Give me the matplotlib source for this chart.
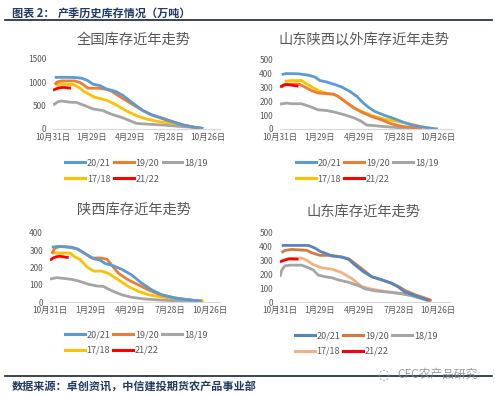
import matplotlib
matplotlib.use("Agg")
import matplotlib.pyplot as plt
from matplotlib.lines import Line2D

plt.rcParams['font.family'] = ['Noto Sans CJK SC', 'DejaVu Sans']

W, H = 495, 395

# ---------------- data ----------------
season_labels = ['20/21', '19/20', '18/19', '17/18', '21/22']
tick_days = [0, 90, 180, 270, 360]
tick_labels = ['10月31日', '1月29日', '4月29日', '7月28日', '10月26日']

# 全国
nat_2021_d = [4, 20, 47, 66, 80, 93, 109, 124, 147, 163, 186, 209, 233, 256, 279, 303, 326, 349]
nat_2021_v = [1105, 1108, 1105, 1090, 1040, 960, 930, 860, 800, 715, 550, 395, 290, 215, 150, 85, 40, 10]
nat_1920_d = [4, 10, 20, 50, 62, 72, 81, 105, 124, 136, 155, 178, 202, 225, 256, 279, 303, 326, 349]
nat_1920_v = [950, 1010, 1030, 1030, 1000, 940, 875, 875, 850, 810, 695, 565, 430, 315, 230, 155, 85, 40, 12]
nat_1819_d = [0, 12, 20, 39, 54, 70, 93, 116, 136, 159, 178, 194, 217, 256, 295, 326, 336]
nat_1819_v = [515, 585, 600, 575, 570, 515, 430, 395, 315, 250, 180, 120, 105, 85, 55, 35, 25]
nat_1718_d = [8, 14, 47, 62, 70, 97, 124, 147, 171, 194, 217, 248, 279, 310, 349]
nat_1718_v = [930, 960, 955, 880, 815, 680, 620, 515, 385, 285, 215, 155, 120, 70, 12]
nat_2122_d = [0, 7, 14, 21, 28, 35, 42]
nat_2122_v = [830, 860, 880, 890, 890, 880, 875]

# 山东陕西以外
oth_2021_d = [4, 15, 42, 65, 80, 91, 106, 125, 140, 159, 175, 190, 201, 216, 239, 262, 277, 300, 323, 345, 360]
oth_2021_v = [395, 402, 400, 390, 376, 351, 341, 322, 305, 273, 237, 188, 159, 127, 98, 73, 54, 29, 15, 5, 0]
oth_1920_d = [4, 8, 42, 53, 72, 87, 106, 121, 132, 148, 167, 186, 209, 232, 254, 277, 300, 323]
oth_1920_v = [300, 322, 327, 310, 278, 261, 256, 254, 237, 200, 156, 122, 90, 66, 37, 20, 10, 3]
oth_1819_d = [0, 15, 26, 49, 68, 87, 106, 125, 148, 171, 186, 197, 216, 239, 270, 308, 323]
oth_1819_v = [180, 188, 183, 183, 163, 139, 134, 122, 102, 78, 54, 29, 24, 17, 10, 5, 3]
oth_1718_d = [11, 26, 49, 61, 76, 91, 110, 129, 148, 167, 190, 216, 239, 270, 300, 323, 342, 350]
oth_1718_v = [346, 351, 351, 327, 298, 273, 256, 244, 200, 156, 122, 90, 71, 54, 34, 17, 5, 2]
oth_2122_d = [0, 7, 14, 21, 28, 35, 42]
oth_2122_v = [305, 315, 322, 320, 317, 313, 310]

# 陕西
sx_2021_d = [4, 19, 41, 60, 79, 98, 113, 124, 139, 161, 184, 206, 229, 251, 281, 311, 341]
sx_2021_v = [318, 322, 318, 309, 280, 251, 242, 223, 213, 190, 156, 109, 70, 42, 23, 13, 4]
sx_1920_d = [4, 11, 23, 49, 64, 79, 94, 113, 128, 139, 154, 176, 199, 221, 244, 274, 304, 341]
sx_1920_v = [280, 312, 322, 318, 305, 280, 255, 255, 248, 213, 166, 128, 99, 70, 46, 27, 15, 4]
sx_1819_d = [0, 15, 30, 49, 64, 86, 105, 120, 139, 161, 184, 214, 251, 289, 319]
sx_1819_v = [133, 141, 137, 131, 122, 103, 93, 90, 65, 42, 27, 17, 11, 6, 4]
sx_1718_d = [4, 11, 45, 56, 68, 83, 98, 116, 131, 154, 176, 199, 221, 251, 281, 311, 345]
sx_1718_v = [286, 284, 284, 261, 246, 204, 179, 179, 166, 128, 90, 61, 42, 29, 17, 11, 8]
sx_2122_d = [0, 7, 14, 21, 28, 35, 42]
sx_2122_v = [242, 255, 262, 265, 263, 260, 257]

# 山东
sd_2021_d = [4, 65, 80, 91, 106, 118, 140, 156, 171, 190, 209, 232, 254, 270, 285, 308, 330, 338]
sd_2021_v = [410, 410, 390, 367, 350, 333, 326, 310, 267, 219, 183, 160, 136, 107, 71, 45, 21, 12]
sd_1920_d = [4, 11, 27, 61, 72, 91, 118, 140, 156, 171, 190, 209, 232, 254, 270, 285, 308, 330, 345]
sd_1920_v = [357, 374, 381, 374, 357, 338, 338, 326, 314, 279, 231, 183, 160, 136, 112, 83, 52, 29, 10]
sd_1819_d = [0, 4, 11, 23, 49, 65, 76, 87, 103, 118, 133, 156, 178, 194, 216, 247, 277, 300, 323, 342]
sd_1819_v = [183, 231, 262, 267, 267, 248, 231, 195, 183, 176, 160, 143, 119, 95, 81, 71, 60, 45, 24, 5]
sd_1718_d = [15, 49, 61, 76, 95, 118, 140, 163, 186, 209, 239, 270, 292, 315, 338, 345]
sd_1718_v = [314, 319, 302, 271, 248, 238, 214, 171, 112, 93, 76, 64, 52, 33, 17, 10]
sd_2122_d = [0, 7, 14, 21, 28, 35, 42]
sd_2122_v = [290, 300, 307, 312, 312, 311, 310]

colors_std = ['#5B9BD5', '#ED7D31', '#A5A5A5', '#FFC000', '#FF0000']
colors_sd = ['#5686BF', '#D57A3F', '#A5A5A5', '#F4B183', '#FF0000']

fig = plt.figure(figsize=(W / 100, H / 100), dpi=100)
fig.patch.set_facecolor('white')


def add_ax(x0, y0, x1, y1):
    return fig.add_axes([x0 / W, 1 - y1 / H, (x1 - x0) / W, (y1 - y0) / H])


def panel(box, title, title_xy, series, colors, ymax, ystep, xmax, leg_xy):
    ax = add_ax(*box)
    ax.set_facecolor('none')
    lines = []
    # draw order: older first, current on top
    order = [3, 2, 1, 0, 4]
    hs = [None] * 5
    for i in order:
        d, v = series[i]
        ln, = ax.plot(d, v, color=colors[i], lw=2.0, solid_capstyle='butt',
                      solid_joinstyle='round')
        hs[i] = ln
    ax.set_xlim(0, xmax)
    ax.set_ylim(0, ymax)
    ax.set_yticks(list(range(0, ymax + 1, ystep)))
    ax.set_xticks(tick_days)
    ax.set_xticklabels(tick_labels)
    for s in ['top', 'right', 'left']:
        ax.spines[s].set_visible(False)
    ax.spines['bottom'].set_color('#D9D9D9')
    ax.spines['bottom'].set_linewidth(0.8)
    ax.tick_params(length=0, labelsize=6, colors='#595959', pad=3)
    ax.tick_params(axis='y', pad=5)
    ax.set_clip_on(False)
    fig.text(title_xy[0] / W, 1 - title_xy[1] / H, title, ha='center', va='center',
             fontsize=10.3, color='#595959')
    leg_order = [0, 3, 1, 4, 2]
    ax.legend([Line2D([], [], color=colors[i], lw=2.2) for i in leg_order],
              [season_labels[i] for i in leg_order],
              ncol=3, loc='center', bbox_to_anchor=(leg_xy[0] / W, 1 - leg_xy[1] / H),
              bbox_transform=fig.transFigure, frameon=False, fontsize=6.5,
              labelcolor='#595959', handlelength=2.2, handletextpad=0.2,
              columnspacing=0.35, labelspacing=0.75, borderpad=0)
    return ax


panel((53, 59, 220, 129), '全国库存近年走势', (134, 40),
      [(nat_2021_d, nat_2021_v), (nat_1920_d, nat_1920_v), (nat_1819_d, nat_1819_v),
       (nat_1718_d, nat_1718_v), (nat_2122_d, nat_2122_v)],
      colors_std, 1500, 500, 388, (136.5, 171))

panel((280, 60, 452, 129), '山东陕西以外库存近年走势', (364, 40),
      [(oth_2021_d, oth_2021_v), (oth_1920_d, oth_1920_v), (oth_1819_d, oth_1819_v),
       (oth_1718_d, oth_1718_v), (oth_2122_d, oth_2122_v)],
      colors_std, 500, 100, 392, (367, 171))

panel((50, 233, 220, 302), '陕西库存近年走势', (134, 210),
      [(sx_2021_d, sx_2021_v), (sx_1920_d, sx_1920_v), (sx_1819_d, sx_1819_v),
       (sx_1718_d, sx_1718_v), (sx_2122_d, sx_2122_v)],
      colors_std, 400, 100, 382, (136, 342.5))

panel((280, 233, 450, 302), '山东库存近年走势', (363, 212),
      [(sd_2021_d, sd_2021_v), (sd_1920_d, sd_1920_v), (sd_1819_d, sd_1819_v),
       (sd_1718_d, sd_1718_v), (sd_2122_d, sd_2122_v)],
      colors_sd, 500, 100, 387, (366, 343.5))

navy = '#1F3864'
# header
fig.text(12 / W, 1 - 13 / H, '图表 2：', fontsize=8, fontweight='bold', color=navy,
         ha='left', va='center')
fig.text(58 / W, 1 - 13 / H, '产季历史库存情况（万吨）', fontsize=8, fontweight='bold',
         color=navy, ha='left', va='center')
fig.add_artist(Line2D([5 / W, 492 / W], [1 - 20 / H, 1 - 20 / H], color='#17243D', lw=1.2))

# footer
fig.add_artist(Line2D([5 / W, 492 / W], [1 - 375.5 / H, 1 - 375.5 / H], color='#17243D', lw=1.2))
fig.text(12 / W, 1 - 386 / H, '数据来源：卓创资讯，中信建投期货农产品事业部', fontsize=8,
         fontweight='bold', color=navy, ha='left', va='center')
fig.text(397 / W, 1 - 374 / H, 'CFC农产品研究', fontsize=8.5, color='#8C8C8C',
         ha='left', va='center', alpha=0.85)
fig.text(383 / W, 1 - 374 / H, '◌', fontsize=10, color='#A0A0A0',
         ha='center', va='center', family=['DejaVu Sans'])

fig.savefig('out.png', dpi=100, facecolor='white')
